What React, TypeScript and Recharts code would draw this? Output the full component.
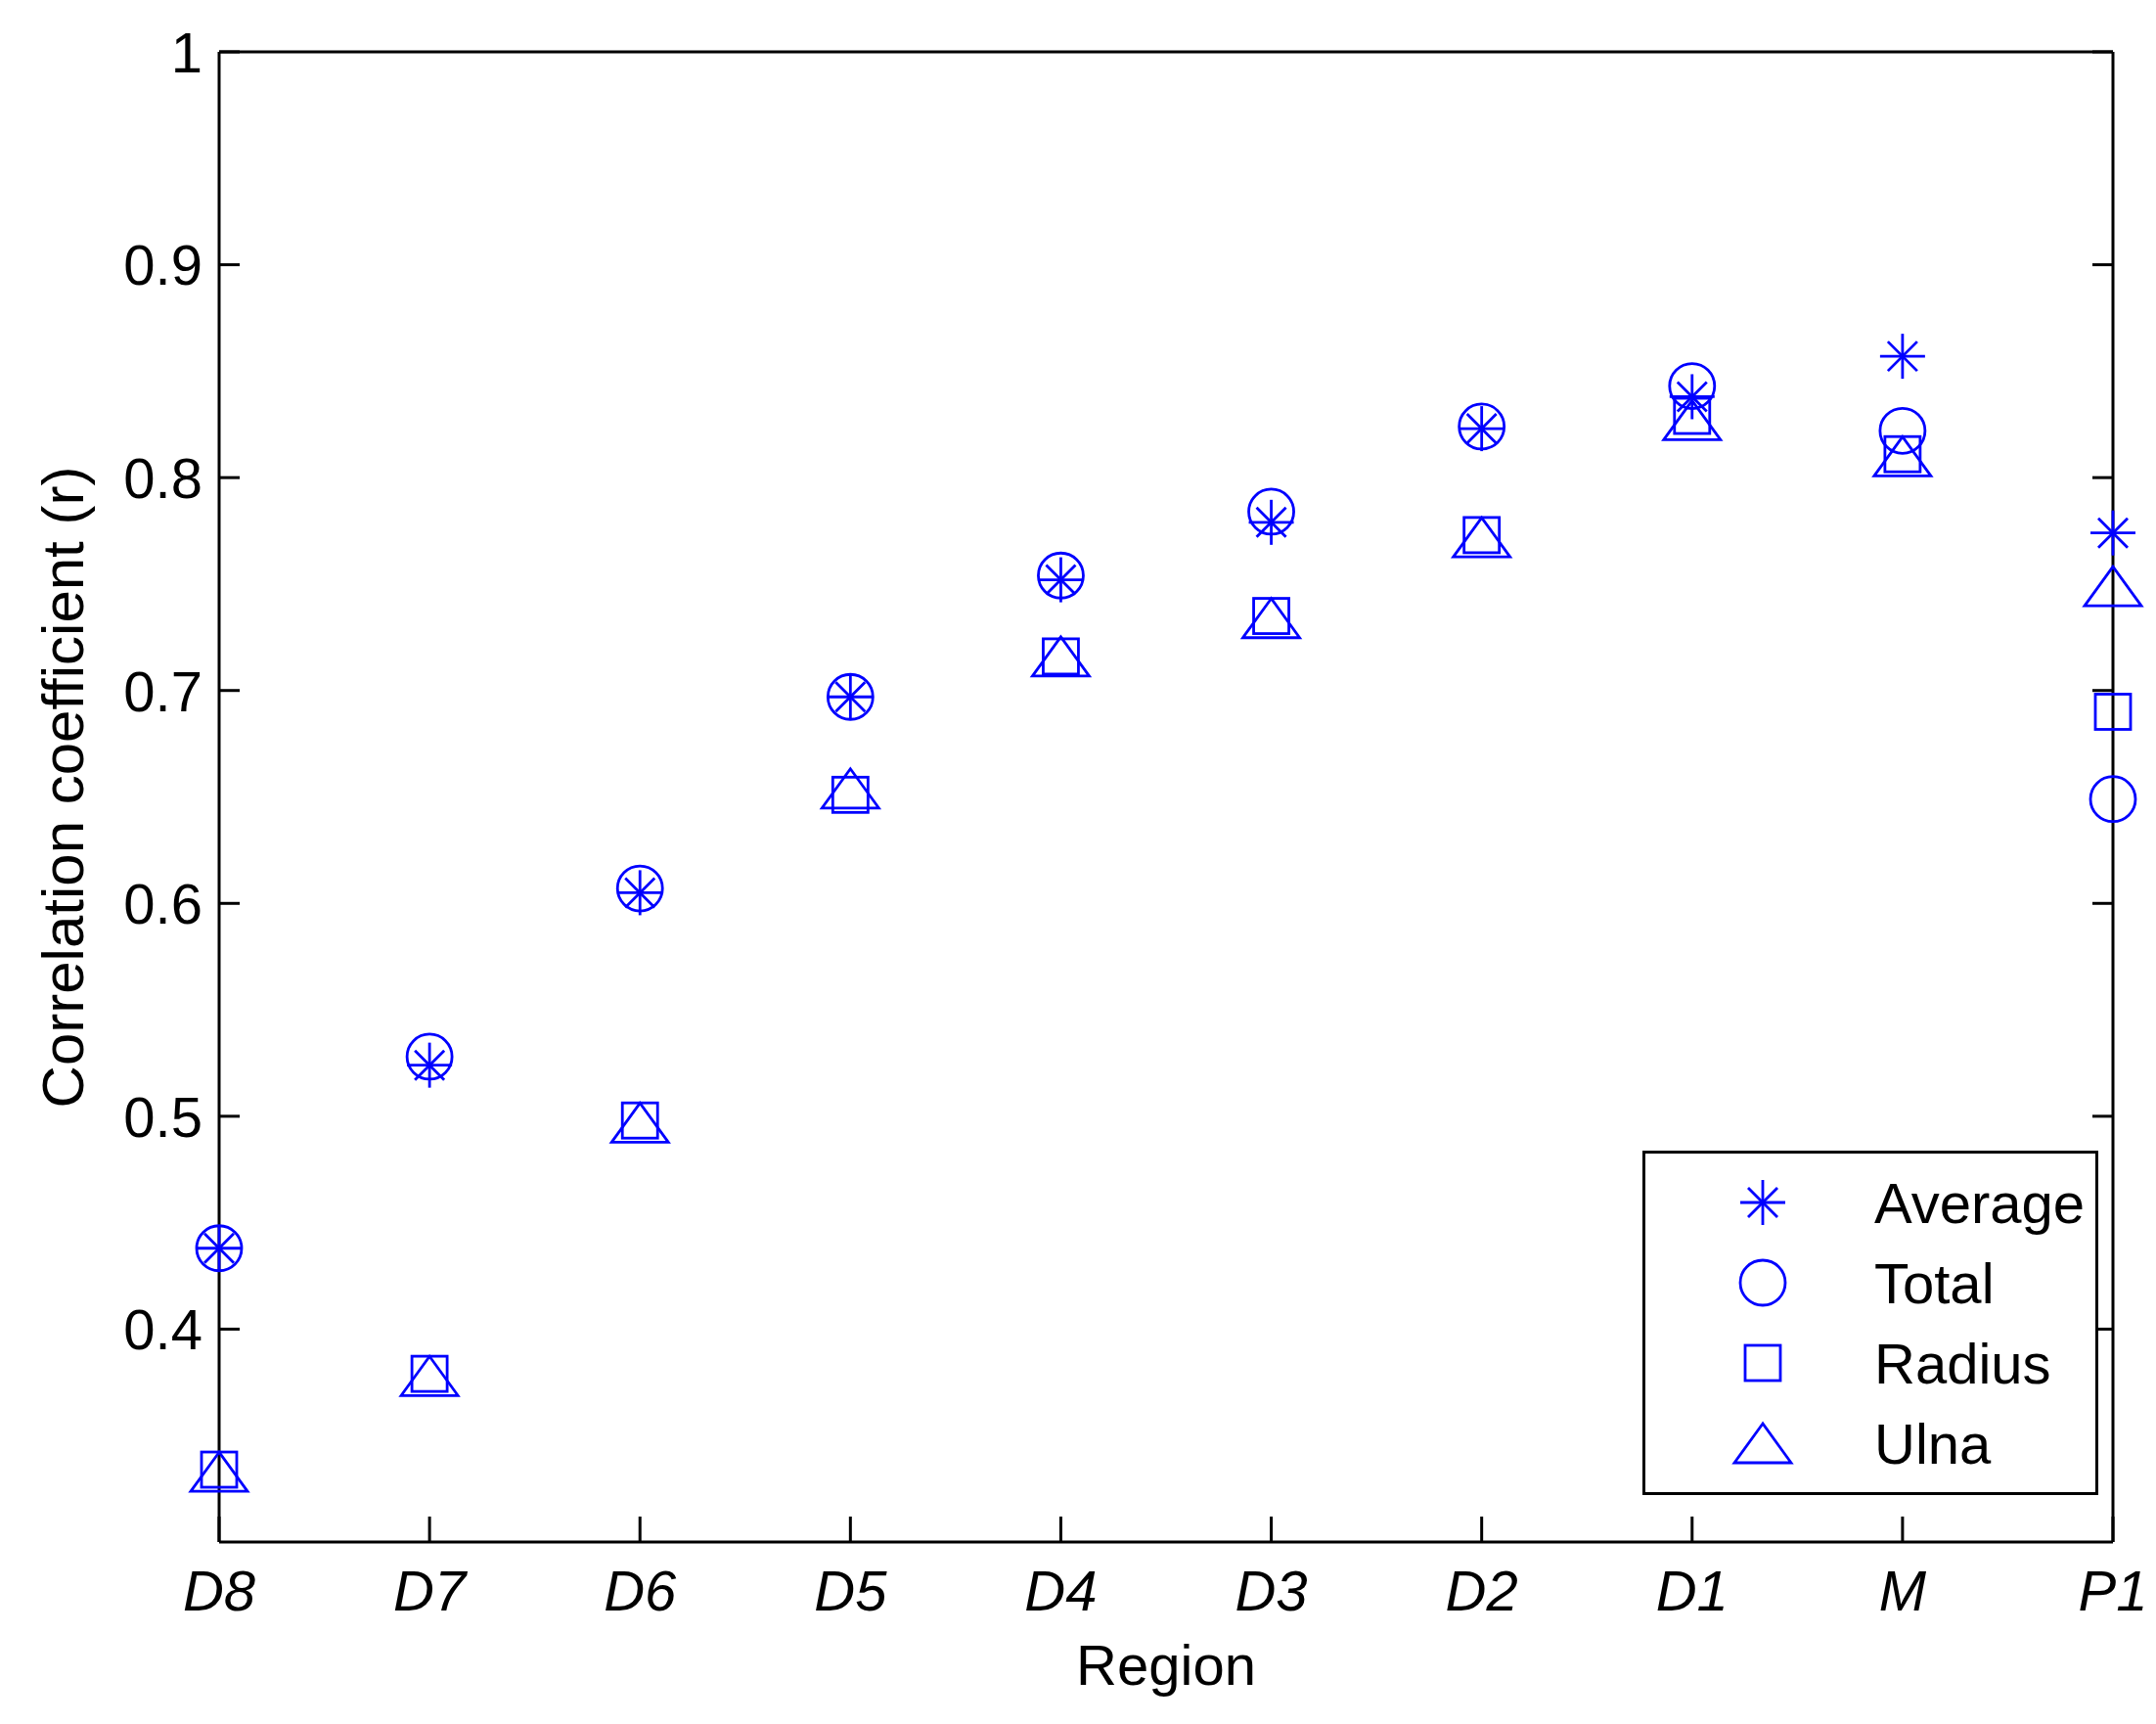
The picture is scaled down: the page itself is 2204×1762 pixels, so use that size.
import { ScatterChart, Scatter, XAxis, YAxis, Legend, Label } from 'recharts';

const regions = ['D8', 'D7', 'D6', 'D5', 'D4', 'D3', 'D2', 'D1', 'M', 'P1'];
const seriesNames = ['Average', 'Total', 'Radius', 'Ulna'];
const average = [0.438, 0.524, 0.605, 0.697, 0.752, 0.779, 0.823, 0.838, 0.857, 0.774];
const total = [0.438, 0.528, 0.607, 0.697, 0.754, 0.784, 0.824, 0.843, 0.822, 0.649];
const radius = [0.334, 0.379, 0.498, 0.651, 0.716, 0.735, 0.773, 0.829, 0.811, 0.69];
const ulna = [0.333, 0.378, 0.497, 0.654, 0.716, 0.734, 0.772, 0.827, 0.81, 0.749];
const yTicks = [0.4, 0.5, 0.6, 0.7, 0.8, 0.9, 1];
const xTicks = regions.map((_, i) => i);

const BLUE = '#0000ff';
const FONT = '"Liberation Sans", Arial, Helvetica, sans-serif';
const FS = 58;

const toPoints = (vals: number[]) => vals.map((r, i) => ({ x: i, r }));

// matlab-ish markers
const star = (cx: number, cy: number) => (
  <g stroke={BLUE} strokeWidth={2.8} fill="none">
    <line x1={cx - 23} x2={cx + 23} y1={cy} y2={cy} />
    <line x1={cx} x2={cx} y1={cy - 23} y2={cy + 23} />
    <line x1={cx - 15} x2={cx + 15} y1={cy - 15} y2={cy + 15} />
    <line x1={cx - 15} x2={cx + 15} y1={cy + 15} y2={cy - 15} />
  </g>
);
const circle = (cx: number, cy: number) => (
  <circle cx={cx} cy={cy} r={23} stroke={BLUE} strokeWidth={2.8} fill="none" />
);
const square = (cx: number, cy: number) => (
  <rect x={cx - 18} y={cy - 18} width={36} height={36} stroke={BLUE} strokeWidth={2.8} fill="none" />
);
const triangle = (cx: number, cy: number) => (
  <polygon
    points={`${cx},${cy - 20} ${cx - 29},${cy + 20} ${cx + 29},${cy + 20}`}
    stroke={BLUE}
    strokeWidth={2.8}
    fill="none"
  />
);

const markers: Record<string, (cx: number, cy: number) => any> = {
  Average: star,
  Total: circle,
  Radius: square,
  Ulna: triangle,
};

const LeftTick = (props: any) => {
  const { x, y, payload } = props;
  const ax = x + 17;
  return (
    <g>
      <line x1={ax} x2={ax + 21} y1={y} y2={y} stroke="#000" strokeWidth={3} />
      <text x={x} y={y} dy="0.36em" textAnchor="end" fontFamily={FONT} fontSize={FS} fill="#000">
        {payload.value === 1 ? '1' : payload.value.toFixed(1)}
      </text>
    </g>
  );
};

const BottomTick = (props: any) => {
  const { x, y, payload } = props;
  const ay = y - 70;
  return (
    <g>
      <line x1={x} x2={x} y1={ay} y2={ay - 26} stroke="#000" strokeWidth={3} />
      <text x={x} y={y} textAnchor="middle" fontFamily={FONT} fontSize={FS} fontStyle="italic" fill="#000">
        {regions[payload.value]}
      </text>
    </g>
  );
};

const TopTick = (props: any) => (
  <line x1={props.x} x2={props.x} y1={props.y} y2={props.y + 26} stroke="#000" strokeWidth={3} />
);

const RightTick = (props: any) => (
  <line x1={props.x - 21} x2={props.x} y1={props.y} y2={props.y} stroke="#000" strokeWidth={3} />
);

const renderLegend = (props: any) => {
  const items = [...(props.payload || [])].sort(
    (a: any, b: any) => seriesNames.indexOf(a.value) - seriesNames.indexOf(b.value)
  );
  return (
    <svg width={466} height={352} style={{ display: 'block' }}>
      <rect x={1.5} y={1.5} width={463} height={349} fill="#fff" stroke="#000" strokeWidth={3} />
      {items.map((entry: any, i: number) => {
        const cy = 53 + i * 82;
        const draw = markers[entry.value];
        return (
          <g key={entry.value}>
            {draw ? draw(123, cy) : null}
            <text x={237} y={cy} dy="0.36em" fontFamily={FONT} fontSize={FS} fill="#000">
              {entry.value}
            </text>
          </g>
        );
      })}
    </svg>
  );
};

const axisLine = { stroke: '#000', strokeWidth: 3 };

const App = () => {
  return (
    <div style={{ position: 'absolute', left: 0, top: 0, width: 2204, height: 1762, background: '#fff' }}>
      <ScatterChart width={2204} height={1762} margin={{ top: 52, right: 43, bottom: 126, left: 124 }}>
        <XAxis
          dataKey="x"
          type="number"
          domain={[0, 9]}
          ticks={xTicks}
          interval={0}
          height={60}
          tickSize={0}
          tickLine={false}
          tickMargin={70}
          axisLine={axisLine}
          tick={BottomTick}
        >
          <Label
            content={(p: any) => (
              <text
                x={p.viewBox.x + p.viewBox.width / 2}
                y={p.viewBox.y + 146}
                textAnchor="middle"
                fontFamily={FONT}
                fontSize={FS}
                fill="#000"
              >
                Region
              </text>
            )}
          />
        </XAxis>
        <XAxis
          xAxisId="top"
          orientation="top"
          type="number"
          domain={[0, 9]}
          ticks={xTicks}
          interval={0}
          height={1}
          tickSize={0}
          tickLine={false}
          tickMargin={0}
          allowDataOverflow
          axisLine={axisLine}
          tick={TopTick}
        />
        <YAxis
          dataKey="r"
          type="number"
          domain={[0.3, 1]}
          ticks={yTicks}
          interval={0}
          width={100}
          tickSize={0}
          tickLine={false}
          tickMargin={17}
          axisLine={axisLine}
          tick={LeftTick}
        >
          <Label
            content={(p: any) => {
              const cx = p.viewBox.x - 61;
              const cy = p.viewBox.y + p.viewBox.height / 2 - 10;
              return (
                <text
                  x={cx}
                  y={cy}
                  dy="0.36em"
                  transform={`rotate(-90 ${cx} ${cy})`}
                  textAnchor="middle"
                  fontFamily={FONT}
                  fontSize={60}
                  fill="#000"
                >
                  Correlation coefficient (r)
                </text>
              );
            }}
          />
        </YAxis>
        <YAxis
          yAxisId="right"
          orientation="right"
          type="number"
          domain={[0.3, 1]}
          ticks={yTicks}
          interval={0}
          width={1}
          tickSize={0}
          tickLine={false}
          tickMargin={0}
          allowDataOverflow
          axisLine={axisLine}
          tick={RightTick}
        />
        <Legend
          layout="vertical"
          align="center"
          verticalAlign="middle"
          wrapperStyle={{ left: 1679, top: 1176, width: 466, height: 352 }}
          content={renderLegend}
        />
        <Scatter name="Average" data={toPoints(average)} isAnimationActive={false} shape={(p: any) => star(p.cx, p.cy)} />
        <Scatter name="Total" data={toPoints(total)} isAnimationActive={false} shape={(p: any) => circle(p.cx, p.cy)} />
        <Scatter name="Radius" data={toPoints(radius)} isAnimationActive={false} shape={(p: any) => square(p.cx, p.cy)} />
        <Scatter name="Ulna" data={toPoints(ulna)} isAnimationActive={false} shape={(p: any) => triangle(p.cx, p.cy)} />
      </ScatterChart>
    </div>
  );
};

export default App;
